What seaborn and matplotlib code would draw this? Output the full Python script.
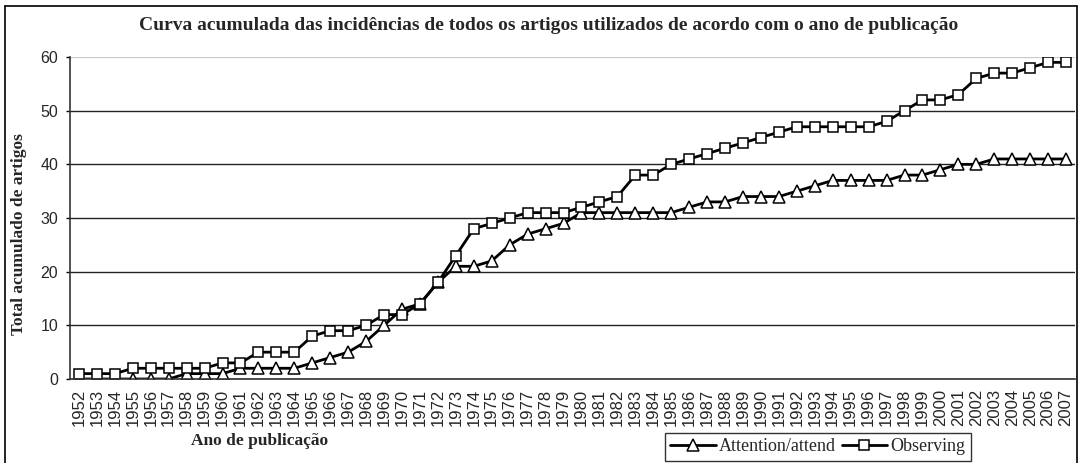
import numpy as np
import pandas as pd
import matplotlib
matplotlib.use("Agg")
import matplotlib.pyplot as plt
from matplotlib.lines import Line2D
import seaborn as sns

# anos de publicação e totais acumulados
years = list(range(1952, 2008))
attention = [0, 0, 0, 0, 0, 0, 1, 1, 1, 2, 2, 2, 2, 3, 4, 5, 7, 10, 13, 14,
             18, 21, 21, 22, 25, 27, 28, 29, 31, 31, 31, 31, 31, 31, 32, 33,
             33, 34, 34, 34, 35, 36, 37, 37, 37, 37, 38, 38, 39, 40, 40, 41,
             41, 41, 41, 41]
observing = [1, 1, 1, 2, 2, 2, 2, 2, 3, 3, 5, 5, 5, 8, 9, 9, 10, 12, 12, 14,
             18, 23, 28, 29, 30, 31, 31, 31, 32, 33, 34, 38, 38, 40, 41, 42,
             43, 44, 45, 46, 47, 47, 47, 47, 47, 48, 50, 52, 52, 53, 56, 57,
             57, 58, 59, 59]

df = pd.DataFrame({"pos": np.arange(len(years)),
                   "Attention/attend": attention,
                   "Observing": observing})

sns.set_style("white")
serif = ["Liberation Serif", "DejaVu Serif"]
sans = ["Liberation Sans", "DejaVu Sans"]
plt.rcParams["font.family"] = sans

W, H = 1078, 463
fig = plt.figure(figsize=(W / 100, H / 100), dpi=100)
ax = fig.add_axes([70 / W, 1 - 379 / H, 1005 / W, 322 / H])

common = dict(color="black", linewidth=2.0, markerfacecolor="white",
              markeredgecolor="black", markeredgewidth=1.1, ax=ax)
sns.lineplot(data=df, x="pos", y="Attention/attend", marker="^", markersize=9,
             label="Attention/attend", **common)
sns.lineplot(data=df, x="pos", y="Observing", marker="s", markersize=7.5,
             label="Observing", **common)

ax.set_xlim(-0.5, len(years) - 0.5)
ax.set_ylim(0, 60)
ax.set_yticks(range(0, 61, 10))
ax.set_xticks(df["pos"])
ax.set_xticklabels([str(y) for y in years], rotation=90, fontsize=12)
ax.set_xticks(np.arange(-0.5, len(years), 1), minor=True)
ax.tick_params(axis="x", which="major", length=0, pad=7)
ax.tick_params(axis="x", which="minor", length=4, width=1, direction="out", color="black")
ax.tick_params(axis="y", length=3, width=1, direction="out", color="black",
               labelsize=11.5, pad=5.5, left=True)

ax.yaxis.grid(True, color="#222222", linewidth=1)
ax.xaxis.grid(False)
ax.set_axisbelow(True)
ax.get_ygridlines()[-1].set_color("#cccccc")
for s in ["top", "right"]:
    ax.spines[s].set_visible(False)
for s in ["left", "bottom"]:
    ax.spines[s].set_color("#333333")
    ax.spines[s].set_linewidth(1.2)

ax.set_xlabel("")
ax.set_ylabel("Total acumulado de artigos", family=serif, fontweight="bold", fontsize=12.5)
ax.yaxis.set_label_coords((27 - 70) / 1005, (379 - 234) / 322)
fig.text(260 / W, 1 - 441 / H, "Ano de publicação", family=serif, fontweight="bold",
         fontsize=12.5, ha="center", va="center")
fig.text(549 / W, 1 - 25 / H,
         "Curva acumulada das incidências de todos os artigos utilizados de acordo com o ano de publicação",
         family=serif, fontweight="bold", fontsize=14, ha="center", va="center")

leg = ax.legend(loc="upper left", bbox_to_anchor=(665 / W, 1 - 433 / H),
                bbox_transform=fig.transFigure, ncol=2, frameon=True, fancybox=False,
                prop={"family": serif, "size": 13}, handlelength=2.5,
                columnspacing=0.3, handletextpad=0.2, borderpad=0.3, borderaxespad=0)
leg.get_frame().set_edgecolor("black")
leg.get_frame().set_linewidth(1)

# moldura do gráfico
x0, x1, y0 = 5 / W, 1077 / W, 1 - 6 / H
for xs, ys in [([x0, x1], [y0, y0]), ([x0, x0], [y0, 0]), ([x1, x1], [y0, 0])]:
    fig.add_artist(Line2D(xs, ys, color="black", linewidth=1.2, transform=fig.transFigure))

fig.savefig("out.png", dpi=100)
